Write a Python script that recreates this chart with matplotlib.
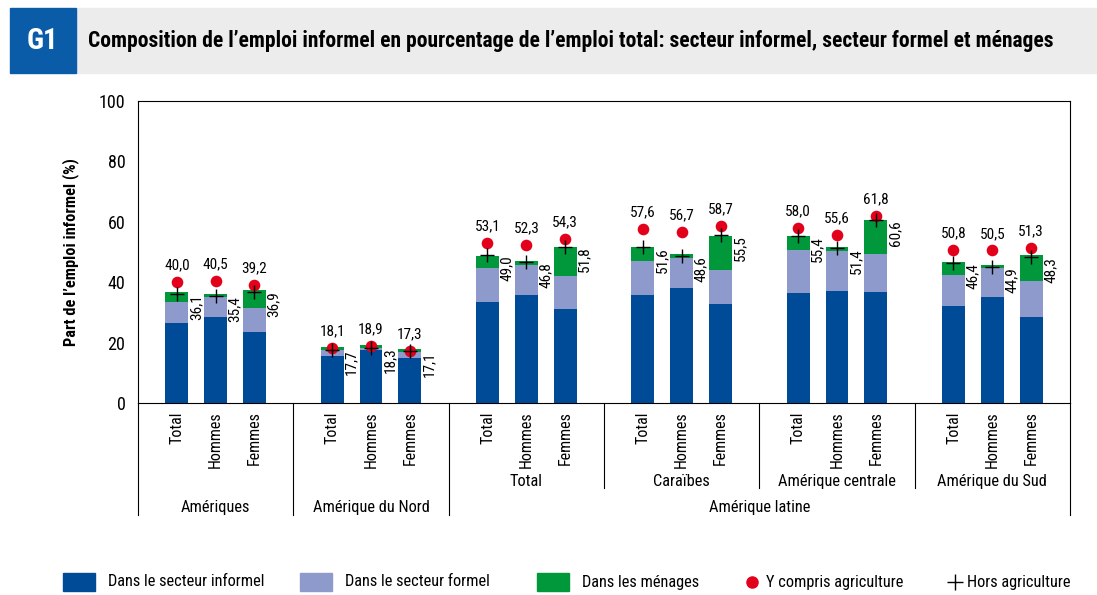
import numpy as np
import matplotlib.pyplot as plt
from matplotlib.patches import Rectangle
from matplotlib.lines import Line2D

NARROW = ['Liberation Sans Narrow', 'Roboto Condensed', 'Roboto', 'DejaVu Sans']

groups = ['Amériques', 'Amérique du Nord', 'Total', 'Caraïbes', 'Amérique centrale', 'Amérique du Sud']
sexes = ['Total', 'Hommes', 'Femmes']

# segments of the stack (%)
informel = [26.6, 28.6, 23.6, 15.6, 17.6, 15.0, 33.5, 35.7, 31.0,
            35.7, 38.1, 32.7, 36.4, 37.1, 36.8, 32.1, 35.1, 28.5]
formel = [6.9, 6.6, 8.0, 1.9, 0.7, 1.8, 11.2, 9.9, 10.9,
          11.3, 9.8, 11.5, 14.2, 13.2, 12.5, 10.3, 9.6, 11.9]
menages = [3.4, 0.9, 5.9, 1.0, 0.8, 1.1, 4.1, 1.4, 9.9,
           4.8, 1.3, 11.2, 4.8, 1.3, 11.4, 4.3, 0.9, 8.5]
avec_agri = [40.0, 40.5, 39.2, 18.1, 18.9, 17.3, 53.1, 52.3, 54.3,
             57.6, 56.7, 58.7, 58.0, 55.6, 61.8, 50.8, 50.5, 51.3]
hors_agri = [36.1, 35.4, 36.9, 17.7, 18.3, 17.1, 49.0, 46.8, 51.8,
             51.6, 48.6, 55.5, 55.4, 51.4, 60.6, 46.4, 44.9, 48.3]

c_inf = '#004b98'
c_for = '#8e9acc'
c_men = '#00983a'
c_red = '#e2001a'

def fmt(v):
    return f'{v:.1f}'.replace('.', ',')

W, H = 1097, 595
fig = plt.figure(figsize=(W / 100, H / 100), dpi=100)

# header band
fig.patches.append(Rectangle((76 / W, 1 - 73 / H), 1 - 76 / W, 65 / H,
                             transform=fig.transFigure, color='#ececec', zorder=0))
fig.patches.append(Rectangle((10 / W, 1 - 73 / H), 66 / W, 65 / H,
                             transform=fig.transFigure, color='#0a5ca8', zorder=0))
fig.text(43 / W, 1 - 41 / H, 'G1', color='white', fontsize=21, fontweight='bold',
         family=NARROW, ha='center', va='center')
fig.text(88 / W, 1 - 41 / H,
         'Composition de l’emploi informel en pourcentage de l’emploi total: secteur informel, secteur formel et ménages',
         fontsize=15.5, fontweight='bold', family=NARROW, ha='left', va='center')

ax = fig.add_axes([138 / W, 1 - 403 / H, (1070 - 138) / W, (403 - 101) / H])

x = np.array([4 * g + i for g in range(len(groups)) for i in range(3)], dtype=float)
w = 0.59
inf = np.array(informel)
frm = np.array(formel)
men = np.array(menages)
ax.bar(x, inf, w, color=c_inf, zorder=2)
ax.bar(x, frm, w, bottom=inf, color=c_for, zorder=2)
ax.bar(x, men, w, bottom=inf + frm, color=c_men, zorder=2)
ax.scatter(x, avec_agri, s=70, color=c_red, zorder=3, linewidths=0)
ax.scatter(x, hors_agri, s=110, marker='+', color='black', linewidths=1.0, zorder=4)

for xi, a, h in zip(x, avec_agri, hors_agri):
    ax.text(xi, a + 3.2, fmt(a), ha='center', va='bottom', fontsize=11, family=NARROW)
    ax.text(xi + w / 2 + 0.02, h, fmt(h), ha='left', va='top', rotation=90,
            fontsize=11, family=NARROW)

ax.set_xlim(-1, 23)
ax.set_ylim(0, 100)
ax.set_yticks(range(0, 101, 20))
ax.tick_params(axis='y', labelsize=13, length=0, pad=9)
for t in ax.get_yticklabels():
    t.set_family(NARROW)
ax.set_xticks(x)
ax.set_xticklabels(sexes * len(groups), rotation=90, fontsize=11.5, family=NARROW, va='top')
ax.tick_params(axis='x', length=0, pad=6)
for s in ax.spines.values():
    s.set_linewidth(0.8)
ax.set_ylabel('Part de l’emploi informel (%)', fontsize=11.8, fontweight='bold',
              family=NARROW, labelpad=14)

# hierarchical category lines and labels below the axis
trans = ax.get_xaxis_transform()
outer = [-1, 3, 7, 23]
inner = [11, 15, 19]
for b in outer:
    ax.add_line(Line2D([b, b], [0, -0.37], transform=trans, color='black', lw=0.8, clip_on=False))
for b in inner:
    ax.add_line(Line2D([b, b], [0, -0.28], transform=trans, color='black', lw=0.8, clip_on=False))
for g, name in enumerate(groups):
    cx = 4 * g + 1
    yy = -0.345 if g < 2 else -0.26
    ax.text(cx, yy, name, transform=trans, ha='center', va='center', fontsize=11.8, family=NARROW)
ax.text(15, -0.345, 'Amérique latine', transform=trans, ha='center', va='center',
        fontsize=11.8, family=NARROW)

# legend, laid out as in the source figure
labels = ['Dans le secteur informel', 'Dans le secteur formel', 'Dans les ménages',
          'Y compris agriculture', 'Hors agriculture']
ly = 1 - 582 / H
for px, col, lab in zip([63, 300, 537], [c_inf, c_for, c_men], labels[:3]):
    fig.patches.append(Rectangle((px / W, ly - 9 / H), 32 / W, 18 / H,
                                 transform=fig.transFigure, color=col))
    fig.text((px + 45) / W, ly, lab, fontsize=11.8, family=NARROW, va='center', ha='left')
fig.add_artist(Line2D([752 / W], [ly], transform=fig.transFigure, ls='none', marker='o',
                      color=c_red, markersize=8))
fig.text(766 / W, ly, labels[3], fontsize=11.8, family=NARROW, va='center', ha='left')
fig.add_artist(Line2D([955 / W], [ly], transform=fig.transFigure, ls='none', marker='+',
                      color='black', markersize=11, mew=1))
fig.text(967 / W, ly, labels[4], fontsize=11.8, family=NARROW, va='center', ha='left')

fig.savefig('out.png', dpi=100)
